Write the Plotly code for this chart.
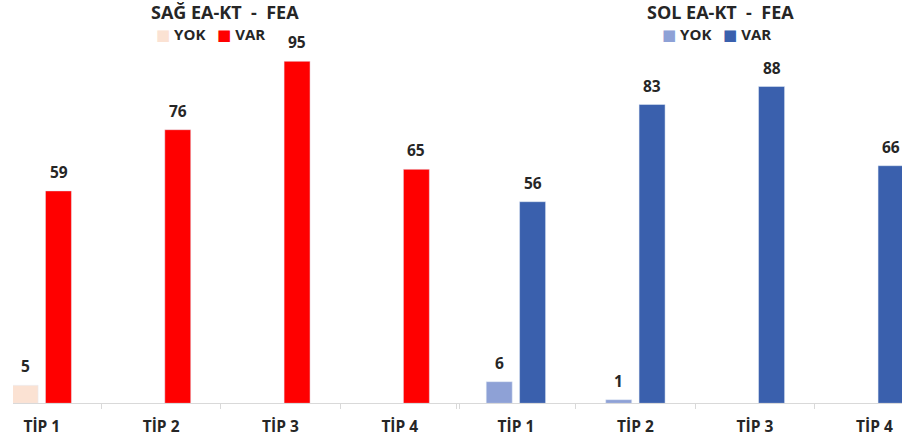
import plotly.graph_objects as go

categories = ["TİP 1", "TİP 2", "TİP 3", "TİP 4"]
sag_yok = [5, None, None, None]
sag_var = [59, 76, 95, 65]
sol_yok = [6, 1, None, None]
sol_var = [56, 83, 88, 66]
series_names = ["YOK", "VAR"]
panel_titles = ["SAĞ EA-KT\u00a0\u00a0-\u00a0\u00a0FEA", "SOL EA-KT\u00a0\u00a0-\u00a0\u00a0FEA"]

W, H = 902, 444
FONT = "Open Sans"
TXT = "#262626"
c_sag_yok, c_sag_var = "#FBE2D3", "#FF0000"
c_sol_yok, c_sol_var = "#8EA1D6", "#3A60AD"

fig = go.Figure()
panels = [
    ("x", sag_yok, sag_var, c_sag_yok, c_sag_var),
    ("x2", sol_yok, sol_var, c_sol_yok, c_sol_var),
]
for xa, yok, var, cy, cv in panels:
    fig.add_bar(x=categories, y=yok, name=series_names[0], marker_color=cy,
                xaxis=xa, yaxis="y", showlegend=False)
    fig.add_bar(x=categories, y=var, name=series_names[1], marker_color=cv,
                xaxis=xa, yaxis="y", showlegend=False)

annotations = []
shift = 16.7
for xa, yok, var, cy, cv in panels:
    for vals, xs in ((yok, -shift), (var, shift)):
        for cat, v in zip(categories, vals):
            if v is None:
                continue
            annotations.append(dict(
                x=cat, y=v, xref=xa, yref="y", xshift=xs, yshift=6,
                yanchor="bottom", showarrow=False, text=str(v),
                font=dict(family=FONT, size=15.5, color=TXT, weight="bold")))

# titles
for title, cx in zip(panel_titles, (224.5, 720.5)):
    annotations.append(dict(
        x=cx / W, y=1 - 12 / H, xref="paper", yref="paper",
        xanchor="center", yanchor="middle", showarrow=False, text=title,
        font=dict(family=FONT, size=18, color=TXT, weight="bold")))

# legends
nb = "\u00a0"
for (cy, cv), cx in zip(((c_sag_yok, c_sag_var), (c_sol_yok, c_sol_var)), (210.5, 716)):
    txt = (f"<span style='color:{cy};font-family:DejaVu Sans'>■</span>{nb}{series_names[0]}"
           f"{nb*3}<span style='color:{cv};font-family:DejaVu Sans'>■</span>{nb}{series_names[1]}")
    annotations.append(dict(
        x=cx / W, y=1 - 33.5 / H, xref="paper", yref="paper",
        xanchor="center", yanchor="middle", showarrow=False, text=txt,
        font=dict(family=FONT, size=15, color=TXT, weight="bold")))

base_px = 403.3
px_per_unit = 3.6
axis_common = dict(
    type="category", showgrid=False, zeroline=False,
    showline=True, linecolor="#D9D9D9", linewidth=1.2,
    ticks="outside", tickson="boundaries", ticklen=5, tickcolor="#D9D9D9",
    tickfont=dict(family=FONT, size=15.5, color=TXT, weight="bold"),
    ticklabelstandoff=9, fixedrange=True,
)
fig.update_layout(
    width=W, height=H,
    margin=dict(l=0, r=0, t=0, b=0),
    paper_bgcolor="white", plot_bgcolor="white",
    barmode="group", bargap=0.442, bargroupgap=0.22,
    xaxis=dict(domain=[13 / W, 459.4 / W], range=[-0.2414, 3.5], anchor="y", **axis_common),
    xaxis2=dict(domain=[456.15 / W, 1], range=[-0.5, 3.231], anchor="y", **axis_common),
    yaxis=dict(domain=[(H - base_px) / H, 1], range=[0, base_px / px_per_unit],
               visible=False, showgrid=False, fixedrange=True),
    annotations=annotations,
    showlegend=False,
)

fig.write_html("out.html", config={"displayModeBar": False},
               post_script="document.body.style.margin='0';document.body.style.overflow='hidden';")
